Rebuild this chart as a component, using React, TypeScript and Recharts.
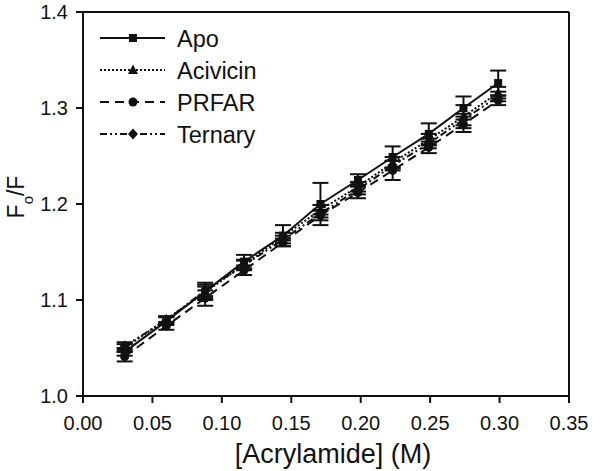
import React from "react"
import { LineChart, Line, XAxis, YAxis, ErrorBar, ReferenceLine } from "recharts"

// acrylamide concentration (M)
const concentrations = [0.03, 0.06, 0.088, 0.116, 0.144, 0.171, 0.198, 0.223, 0.249, 0.274, 0.299]

// Fo/F for each form of the enzyme
const apo = [1.046, 1.078, 1.109, 1.14, 1.167, 1.2, 1.225, 1.249, 1.273, 1.3, 1.326]
const apoErr = [0.004, 0.004, 0.009, 0.007, 0.011, 0.022, 0.006, 0.011, 0.011, 0.012, 0.013]
const acivicin = [1.05, 1.08, 1.108, 1.137, 1.166, 1.194, 1.218, 1.243, 1.267, 1.291, 1.316]
const acivicinErr = [0.004, 0.003, 0.006, 0.005, 0.004, 0.005, 0.005, 0.006, 0.006, 0.012, 0.006]
const prfar = [1.041, 1.073, 1.102, 1.131, 1.16, 1.188, 1.212, 1.235, 1.259, 1.283, 1.308]
const prfarErr = [0.005, 0.004, 0.008, 0.005, 0.004, 0.005, 0.006, 0.01, 0.006, 0.008, 0.005]
const ternary = [1.052, 1.079, 1.11, 1.136, 1.163, 1.19, 1.215, 1.24, 1.263, 1.288, 1.312]
const ternaryErr = [0.004, 0.004, 0.006, 0.005, 0.004, 0.004, 0.005, 0.005, 0.005, 0.006, 0.005]

const xTicks = [0, 0.05, 0.1, 0.15, 0.2, 0.25, 0.3, 0.35]
const yTicks = [1.0, 1.1, 1.2, 1.3, 1.4]

const data = concentrations.map((x, i) => ({
  x,
  apo: apo[i],
  apoErr: apoErr[i],
  acivicin: acivicin[i],
  acivicinErr: acivicinErr[i],
  prfar: prfar[i],
  prfarErr: prfarErr[i],
  ternary: ternary[i],
  ternaryErr: ternaryErr[i],
}))

const FONT = "'Liberation Sans', Arial, sans-serif"
const INK = "#111"

function Marker({ kind, cx, cy }: { kind: string; cx: number; cy: number }) {
  if (kind === "square") return <rect x={cx - 4} y={cy - 4} width={8} height={8} fill={INK} />
  if (kind === "triangle")
    return <polygon points={`${cx},${cy - 5.5} ${cx + 5},${cy + 4} ${cx - 5},${cy + 4}`} fill={INK} />
  if (kind === "diamond")
    return <polygon points={`${cx},${cy - 5.5} ${cx + 5},${cy} ${cx},${cy + 5.5} ${cx - 5},${cy}`} fill={INK} />
  return <circle cx={cx} cy={cy} r={4.5} fill={INK} />
}

const seriesDefs = [
  { key: "apo", name: "Apo", marker: "square", dash: undefined },
  { key: "acivicin", name: "Acivicin", marker: "triangle", dash: "2 2" },
  { key: "prfar", name: "PRFAR", marker: "circle", dash: "9 6" },
  { key: "ternary", name: "Ternary", marker: "diamond", dash: "7 3 2 3 2 3" },
]

// legend drawn over the top-left corner of the plot
function LegendBox() {
  return (
    <svg width={200} height={135} style={{ position: "absolute", left: 95, top: 25 }}>
      {seriesDefs.map((s, i) => {
        const y = 13 + i * 32
        return (
          <g key={s.key}>
            <line x1={5} x2={70} y1={y} y2={y} stroke={INK} strokeWidth={2} strokeDasharray={s.dash} />
            <Marker kind={s.marker} cx={38} cy={y} />
            <text x={82} y={y + 8.5} fontSize={23.5} fontFamily={FONT} fill={INK}>
              {s.name}
            </text>
          </g>
        )
      })}
    </svg>
  )
}

function YLabel() {
  return (
    <text
      transform="translate(24, 197) rotate(-90)"
      textAnchor="middle"
      fontSize={23}
      fontFamily={FONT}
      fill={INK}
    >
      F
      <tspan fontSize={15} baselineShift="sub">o</tspan>
      <tspan baselineShift="baseline">/F</tspan>
    </text>
  )
}

export default function App() {
  return (
    <div style={{ position: "absolute", left: 0, top: 0, width: 600, height: 471, background: "#fff" }}>
      <LineChart width={600} height={471} data={data} margin={{ top: 12, right: 31, left: 0, bottom: 0 }}>
        <XAxis
          dataKey="x"
          type="number"
          domain={[0, 0.35]}
          ticks={xTicks}
          tickFormatter={(v: number) => v.toFixed(2)}
          stroke={INK}
          strokeWidth={2}
          tickSize={7}
          tickMargin={13}
          height={75}
          tick={{ fill: INK, fontSize: 20, fontFamily: FONT }}
          label={{
            value: "[Acrylamide] (M)",
            position: "insideBottom",
            offset: 8,
            dx: 7,
            fill: INK,
            fontSize: 27,
            fontFamily: FONT,
          }}
        />
        <YAxis
          type="number"
          domain={[1.0, 1.4]}
          ticks={yTicks}
          tickFormatter={(v: number) => v.toFixed(1)}
          stroke={INK}
          strokeWidth={2}
          tickSize={7}
          tickMargin={8}
          width={83}
          tick={{ fill: INK, fontSize: 20, fontFamily: FONT }}
          label={{ content: () => <YLabel /> }}
        />
        <ReferenceLine y={1.4} stroke={INK} strokeWidth={2} />
        <ReferenceLine x={0.35} stroke={INK} strokeWidth={2} />
        {seriesDefs.map((s) => (
          <Line
            key={s.key}
            dataKey={s.key}
            name={s.name}
            stroke={INK}
            strokeWidth={2}
            strokeDasharray={s.dash}
            isAnimationActive={false}
            dot={(p: any) => <Marker key={`${s.key}-${p.index}`} kind={s.marker} cx={p.cx} cy={p.cy} />}
            activeDot={false}
          >
            <ErrorBar dataKey={`${s.key}Err`} direction="y" width={8} stroke={INK} strokeWidth={2} />
          </Line>
        ))}
      </LineChart>
      <LegendBox />
    </div>
  )
}
